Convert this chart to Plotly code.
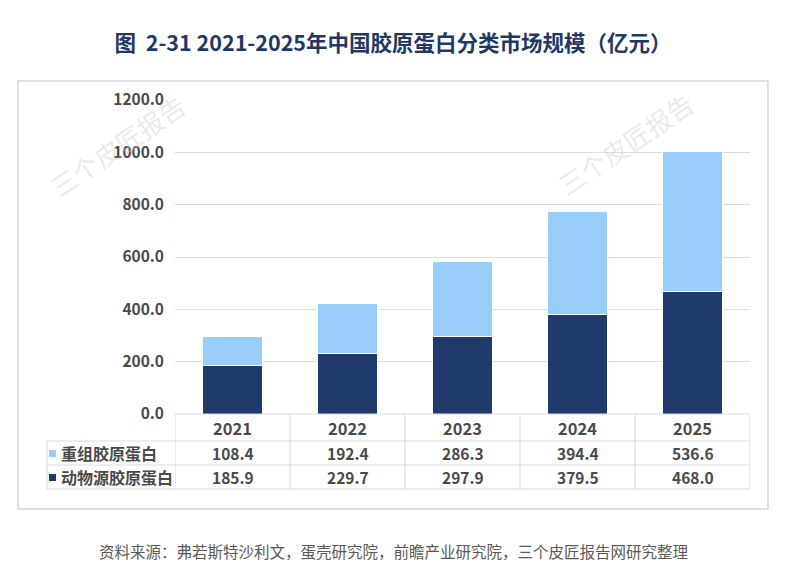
import plotly.graph_objects as go

years = ['2021', '2022', '2023', '2024', '2025']
recombinant = [108.4, 192.4, 286.3, 394.4, 536.6]
animal = [185.9, 229.7, 297.9, 379.5, 468.0]
series_names = ['重组胶原蛋白', '动物源胶原蛋白']
y_ticks = [0, 200, 400, 600, 800, 1000, 1200]

title = '图  2-31 2021-2025年中国胶原蛋白分类市场规模（亿元）'
source = '资料来源：弗若斯特沙利文，蛋壳研究院，前瞻产业研究院，三个皮匠报告网研究整理'
watermark = '三个皮匠报告'

DARK = '#1F3A6B'
LIGHT = '#99CDFA'
GRID = '#DCDCDC'
TXT = '#4A4A4A'
FONT = 'Noto Sans CJK SC'

# page has an 8px body margin, so the figure is drawn 8px in
OFF = 8
W, H = 787 - OFF, 581 - OFF
# plot area in page pixels
L, R, T, B = 175, 750, 100, 414


# page pixel -> paper helpers
def px(x):
    return (x - L) / (R - L)


def py(y):
    return (B - y) / (B - T)


fig = go.Figure()
fig.add_trace(go.Bar(x=years, y=animal, name=series_names[1], marker=dict(color=DARK, line=dict(color='white', width=1))))
fig.add_trace(go.Bar(x=years, y=recombinant, name=series_names[0], marker=dict(color=LIGHT, line=dict(color='white', width=1))))

shapes = []
# outer box
shapes.append(dict(type='rect', xref='paper', yref='paper', x0=px(18), x1=px(768), y0=py(509), y1=py(81),
                   line=dict(color='#D6D6D6', width=1.5), layer='below'))
# table lines
row_y = [414, 441, 465, 489]
for i, yy in enumerate(row_y):
    x0 = L if i == 0 else 47
    shapes.append(dict(type='line', xref='paper', yref='paper', x0=px(x0), x1=px(R), y0=py(yy), y1=py(yy),
                       line=dict(color=GRID, width=1.2)))
shapes.append(dict(type='line', xref='paper', yref='paper', x0=px(47), x1=px(47), y0=py(441), y1=py(489),
                   line=dict(color=GRID, width=1.2)))
for k in range(len(years) + 1):
    xx = k - 0.5
    shapes.append(dict(type='line', xref='x', yref='paper', x0=xx, x1=xx, y0=py(414), y1=py(489),
                       line=dict(color=GRID, width=1.2)))
# legend keys in table
for yy, col in [(453, LIGHT), (477, DARK)]:
    shapes.append(dict(type='rect', xref='paper', yref='paper', x0=px(49), x1=px(56), y0=py(yy + 4), y1=py(yy - 3),
                       fillcolor=col, line=dict(width=0)))

ann = []
# watermarks first so the other text sits on top
for cx, cy in [(117, 145), (625, 143)]:
    ann.append(dict(x=px(cx), y=py(cy), xref='paper', yref='paper', text=watermark, showarrow=False, textangle=-34,
                    xanchor='center', yanchor='middle',
                    font=dict(size=26, color='rgba(200,200,200,0.4)', family=FONT)))

for i, yr in enumerate(years):
    for yy, txt, fs in [(428, yr, 16.5), (453, '%.1f' % recombinant[i], 15.5), (477, '%.1f' % animal[i], 15.5)]:
        ann.append(dict(x=i, y=py(yy), xref='x', yref='paper', text='<b>%s</b>' % txt, showarrow=False,
                        xanchor='center', yanchor='middle', font=dict(size=fs, color=TXT, family=FONT)))
for yy, name in [(453, series_names[0]), (477, series_names[1])]:
    ann.append(dict(x=px(59), y=py(yy), xref='paper', yref='paper', text='<b>%s</b>' % name, showarrow=False,
                    xanchor='left', yanchor='middle', font=dict(size=16, color=TXT, family=FONT)))
# source
ann.append(dict(x=px(393), y=py(551), xref='paper', yref='paper', text=source, showarrow=False,
                xanchor='center', yanchor='middle', font=dict(size=15.5, color='#595959', family=FONT)))

fig.update_layout(
    barmode='stack', bargap=0.47, showlegend=False,
    width=W, height=H,
    margin=dict(l=L - OFF, r=787 - R, t=T - OFF, b=581 - B),
    paper_bgcolor='white', plot_bgcolor='white',
    title=dict(text='<b>%s</b>' % title, x=(393 - OFF) / W, xref='container', xanchor='center',
               y=1 - (43 - OFF) / H, yref='container', yanchor='middle',
               font=dict(size=21.5, color='#1F3864', family=FONT)),
    xaxis=dict(type='category', range=[-0.5, 4.5], showticklabels=False, showgrid=False, zeroline=False,
               showline=False, ticks=''),
    yaxis=dict(range=[0, 1200], tickvals=y_ticks, ticktext=['<b>%.1f</b>' % v for v in y_ticks],
               showgrid=True, gridcolor=GRID, gridwidth=1.2, zeroline=False, showline=False, ticks='',
               ticklabelstandoff=10, tickfont=dict(size=15.5, color=TXT, family=FONT)),
    shapes=shapes, annotations=ann,
    font=dict(family=FONT),
)

fig.write_html("out.html")
